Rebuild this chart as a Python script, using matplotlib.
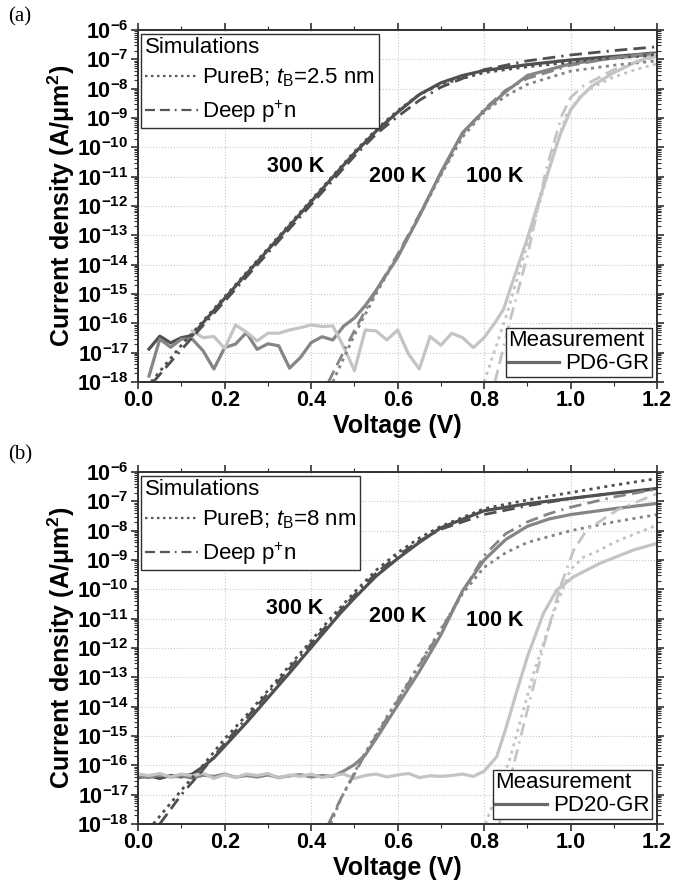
"""Dark current density vs voltage, PureB vs deep p+n diodes, two panels."""
import matplotlib

matplotlib.use("Agg")
import matplotlib.pyplot as plt
import numpy as np
from matplotlib.lines import Line2D
from matplotlib.ticker import FixedLocator, FuncFormatter, LogLocator, MultipleLocator, NullFormatter

# ---- panel (a): PD6-GR, PureB tB=2.5 nm ----  (log10 of A/um^2)
a_meas_300_v = [0.025, 0.05, 0.075, 0.1, 0.125, 0.15, 0.2, 0.3, 0.4, 0.46, 0.5, 0.55,
                0.6, 0.65, 0.7, 0.75, 0.8, 0.9, 1.0, 1.1, 1.2]
a_meas_300 = [-16.88, -16.44, -16.67, -16.49, -16.42, -15.98, -15.15, -13.5, -11.85, -10.85,
              -10.2, -9.45, -8.8, -8.2, -7.8, -7.55, -7.38, -7.18, -7.02, -6.9, -6.78]
a_meas_200_v = [0.025, 0.05, 0.075, 0.1, 0.125, 0.15, 0.175, 0.2, 0.225, 0.25, 0.275, 0.3,
                0.325, 0.35, 0.375, 0.4, 0.425, 0.45, 0.475, 0.5, 0.525, 0.55, 0.6, 0.65,
                0.7, 0.75, 0.8, 0.85, 0.9, 1.0, 1.1, 1.2]
a_meas_200 = [-17.8, -16.54, -16.82, -16.54, -16.54, -16.94, -17.56, -16.83, -16.71, -16.32,
              -16.89, -16.7, -16.77, -17.53, -17.17, -16.66, -16.46, -16.57, -16.1, -15.82,
              -15.4, -14.88, -13.75, -12.35, -10.85, -9.5, -8.75, -8.1, -7.55, -7.15, -6.95, -6.82]
a_meas_100_v = [0.125, 0.15, 0.175, 0.2, 0.225, 0.25, 0.275, 0.3, 0.325, 0.35, 0.375, 0.4,
                0.425, 0.45, 0.475, 0.5, 0.525, 0.55, 0.575, 0.6, 0.625, 0.65, 0.675, 0.7,
                0.725, 0.75, 0.775, 0.8, 0.825, 0.845, 0.86, 0.9, 0.925, 0.95, 0.975, 1.0,
                1.025, 1.05, 1.1, 1.15, 1.2]
a_meas_100 = [-16.26, -16.49, -16.45, -16.86, -16.06, -16.3, -16.6, -16.34, -16.34, -16.23,
              -16.15, -16.06, -16.11, -16.09, -16.8, -17.62, -16.23, -16.26, -16.57, -16.23,
              -17.05, -17.56, -16.45, -16.75, -16.34, -16.49, -16.83, -16.49, -15.98, -15.52,
              -14.84, -13.1, -11.9, -10.75, -9.6, -8.72, -8.25, -7.9, -7.45, -7.1, -6.82]

a_pureb_300_v = [0.03, 0.1, 0.2, 0.3, 0.4, 0.5, 0.55, 0.6, 0.65, 0.7, 0.8, 0.9, 1.0, 1.1, 1.2]
a_pureb_300 = [-18, -16.75, -15.1, -13.45, -11.8, -10.15, -9.4, -8.75, -8.2, -7.85, -7.45,
               -7.25, -7.1, -6.95, -6.85]
a_deep_300_v = [0.035, 0.1, 0.2, 0.3, 0.4, 0.5, 0.55, 0.6, 0.65, 0.7, 0.8, 0.9, 1.0, 1.1, 1.2]
a_deep_300 = [-18, -16.9, -15.25, -13.6, -11.95, -10.3, -9.55, -8.95, -8.4, -7.95, -7.35,
              -7.05, -6.85, -6.7, -6.57]
a_pureb_200_v = [0.45, 0.5, 0.55, 0.6, 0.65, 0.7, 0.75, 0.8, 0.85, 0.9, 1.0, 1.1, 1.2]
a_pureb_200 = [-18, -16.4, -15.0, -13.7, -12.35, -10.95, -9.65, -8.8, -8.25, -7.85, -7.4,
               -7.2, -7.05]
a_deep_200_v = [0.44, 0.5, 0.55, 0.6, 0.65, 0.7, 0.75, 0.8, 0.85, 0.9, 1.0, 1.1, 1.2]
a_deep_200 = [-18, -16.25, -14.9, -13.65, -12.3, -10.9, -9.55, -8.7, -8.05, -7.65, -7.2,
              -6.95, -6.75]
a_pureb_100_v = [0.80, 0.85, 0.9, 0.93, 0.96, 0.99, 1.02, 1.05, 1.1, 1.15, 1.2]
a_pureb_100 = [-18, -15.8, -13.3, -11.8, -10.2, -8.9, -8.3, -7.95, -7.6, -7.35, -7.15]
a_deep_100_v = [0.825, 0.86, 0.9, 0.945, 0.98, 1.0, 1.03, 1.068, 1.1, 1.15, 1.2]
a_deep_100 = [-18, -15.9, -13.7, -10.66, -8.9, -8.3, -7.9, -7.6, -7.35, -7.1, -6.9]

# ---- panel (b): PD20-GR, PureB tB=8 nm ----
b_meas_300_v = [0.0, 0.025, 0.05, 0.075, 0.1, 0.125, 0.15, 0.175, 0.2, 0.25, 0.3, 0.35,
                0.4, 0.467, 0.5, 0.55, 0.6, 0.65, 0.7, 0.8, 0.9, 1.0, 1.1, 1.2]
b_meas_300 = [-16.42, -16.36, -16.45, -16.35, -16.4, -16.3, -16.05, -15.75, -15.35, -14.55,
              -13.7, -12.85, -11.98, -10.82, -10.3, -9.55, -8.95, -8.4, -7.9, -7.32, -7.08,
              -6.9, -6.72, -6.56]
b_meas_200_v = [0.0, 0.025, 0.05, 0.075, 0.1, 0.125, 0.15, 0.175, 0.2, 0.225, 0.25, 0.275,
                0.3, 0.325, 0.35, 0.375, 0.4, 0.425, 0.45, 0.475, 0.5, 0.525, 0.55, 0.6,
                0.65, 0.7, 0.75, 0.8, 0.85, 0.9, 0.95, 1.0, 1.1, 1.2]
b_meas_200 = [-16.38, -16.42, -16.33, -16.4, -16.36, -16.44, -16.34, -16.38, -16.3, -16.41,
              -16.35, -16.4, -16.33, -16.42, -16.36, -16.32, -16.4, -16.35, -16.38, -16.2,
              -15.98, -15.65, -15.1, -13.95, -12.8, -11.55, -10.05, -9.0, -8.3, -7.85, -7.6,
              -7.45, -7.25, -7.07]
b_meas_100_v = [0.0, 0.025, 0.05, 0.075, 0.1, 0.125, 0.15, 0.175, 0.2, 0.225, 0.25, 0.275,
                0.3, 0.325, 0.35, 0.375, 0.4, 0.425, 0.45, 0.475, 0.5, 0.525, 0.55, 0.575,
                0.6, 0.625, 0.65, 0.675, 0.7, 0.725, 0.75, 0.775, 0.8, 0.829, 0.849, 0.875,
                0.9, 0.937, 0.968, 1.007, 1.068, 1.145, 1.2]
b_meas_100 = [-16.3, -16.35, -16.28, -16.4, -16.3, -16.36, -16.27, -16.45, -16.32, -16.42,
              -16.3, -16.35, -16.28, -16.44, -16.33, -16.38, -16.3, -16.42, -16.35, -16.3,
              -16.45, -16.35, -16.3, -16.4, -16.33, -16.28, -16.42, -16.36, -16.38, -16.35,
              -16.3, -16.38, -16.2, -15.71, -14.8, -13.5, -12.3, -10.82, -10.02, -9.57,
              -9.11, -8.66, -8.43]

b_pureb_300_v = [0.035, 0.1, 0.15, 0.2, 0.25, 0.3, 0.35, 0.4, 0.45, 0.5, 0.55, 0.6, 0.65,
                 0.7, 0.8, 0.9, 1.0, 1.1, 1.2]
b_pureb_300 = [-18, -16.85, -16.0, -15.1, -14.3, -13.45, -12.6, -11.75, -10.9, -10.1, -9.35,
               -8.75, -8.25, -7.85, -7.25, -6.95, -6.7, -6.45, -6.22]
b_deep_300_v = [0.05, 0.1, 0.15, 0.2, 0.25, 0.3, 0.35, 0.4, 0.45, 0.5, 0.55, 0.6, 0.65,
                0.7, 0.8, 0.9, 1.0, 1.1, 1.2]
b_deep_300 = [-18, -17.0, -16.15, -15.25, -14.4, -13.55, -12.7, -11.85, -11.0, -10.2, -9.45,
              -8.85, -8.35, -7.95, -7.45, -7.15, -6.9, -6.72, -6.58]
b_pureb_200_v = [0.445, 0.47, 0.5, 0.52, 0.55, 0.6, 0.65, 0.7, 0.75, 0.8, 0.85, 0.9, 1.0,
                 1.1, 1.2]
b_pureb_200 = [-18, -17.1, -16.25, -15.7, -14.95, -13.75, -12.55, -11.35, -10.15, -9.25,
               -8.75, -8.4, -8.0, -7.7, -7.45]
b_deep_200_v = [0.44, 0.47, 0.5, 0.52, 0.55, 0.6, 0.65, 0.7, 0.75, 0.8, 0.85, 0.9, 0.95,
                1.0, 1.1, 1.2]
b_deep_200 = [-18, -17.1, -16.3, -15.75, -15.0, -13.8, -12.6, -11.4, -10.1, -8.85, -8.1,
              -7.7, -7.42, -7.2, -6.85, -6.58]
b_pureb_100_v = [0.803, 0.86, 0.914, 0.96, 0.999, 1.03, 1.068, 1.1, 1.15, 1.2]
b_pureb_100 = [-18, -15.76, -12.87, -10.82, -9.34, -8.9, -8.66, -8.4, -8.1, -7.81]
b_deep_100_v = [0.835, 0.872, 0.937, 0.976, 1.007, 1.037, 1.107, 1.2]
b_deep_100 = [-18, -15.76, -11.96, -9.91, -8.66, -7.98, -7.3, -6.73]

temp_labels = ["300 K", "200 K", "100 K"]
a_label_pos = [(0.365, -10.66), (0.60, -11.0), (0.825, -11.0)]
b_label_pos = [(0.363, -10.64), (0.60, -10.94), (0.825, -11.05)]

colors = ["#505050", "#858585", "#c4c4c4"]
DOT = (0, (1.1, 1.6))
DASH = (0, (4.5, 2.2, 4.5, 2.2, 0.8, 2.2))

plt.rcParams.update({
    "font.family": ["Liberation Sans", "DejaVu Sans"],
    "mathtext.fontset": "custom",
    "mathtext.rm": "Liberation Sans",
    "mathtext.it": "Liberation Sans:italic",
    "mathtext.bf": "Liberation Sans:bold",
})


def draw_panel(ax, meas, sims, label_pos, tb_text, meas_name):
    for (v, j), c in zip(meas, colors):
        ax.plot(v, 10.0 ** np.asarray(j), color=c, lw=2.3, solid_joinstyle="round")
    for (vp, jp, vd, jd), c in zip(sims, colors):
        ax.plot(vp, 10.0 ** np.asarray(jp), color=c, lw=2.0, linestyle=DOT)
        ax.plot(vd, 10.0 ** np.asarray(jd), color=c, lw=2.0, linestyle=DASH)
    for txt, (x, y) in zip(temp_labels, label_pos):
        ax.text(x, 10.0 ** y, txt, ha="center", va="center", fontsize=15.5,
                fontweight="bold")

    ax.set_yscale("log")
    ax.set_xlim(0.0, 1.2)
    ax.set_ylim(1e-18, 1e-6)
    ax.xaxis.set_major_locator(MultipleLocator(0.2))
    ax.xaxis.set_minor_locator(MultipleLocator(0.1))
    ax.xaxis.set_major_formatter(FuncFormatter(lambda v, p: f"{v:.1f}"))
    ax.yaxis.set_major_locator(FixedLocator([10.0 ** k for k in range(-18, -5)]))
    ax.yaxis.set_minor_locator(LogLocator(base=10, subs=np.arange(2, 10), numticks=30))
    ax.yaxis.set_minor_formatter(NullFormatter())
    ax.yaxis.set_major_formatter(FuncFormatter(
        lambda v, p: r"$\mathbf{10^{%d}}$" % int(round(np.log10(v)))))
    ax.tick_params(which="both", direction="out", top=True, right=True, colors="#303030",
                   labelcolor="black")
    ax.tick_params(which="major", length=5, width=1.2, labelsize=15.5, pad=2)
    ax.tick_params(axis="x", which="major", pad=1)
    ax.tick_params(which="minor", length=3, width=0.8)
    for lab in ax.get_xticklabels():
        lab.set_fontweight("bold")
    ax.grid(which="major", color="#c8c8c8", linestyle=":", linewidth=0.8)
    for s in ax.spines.values():
        s.set_linewidth(1.4)
        s.set_color("#303030")
    ax.set_xlabel("Voltage (V)", fontsize=18, fontweight="bold", labelpad=2)
    ax.set_ylabel("Current density (A/μm$\\mathbf{^2}$)", fontsize=18,
                  fontweight="bold", labelpad=0)

    sim_handles = [
        Line2D([], [], color="#555555", lw=1.6, linestyle=DOT),
        Line2D([], [], color="#555555", lw=1.6, linestyle=DASH),
    ]
    leg1 = ax.legend(sim_handles, [f"PureB; $t_{{\\mathrm{{B}}}}$={tb_text}", "Deep p$^{+}$n"],
                     title="Simulations", loc="upper left", bbox_to_anchor=(0.006, 0.99),
                     fontsize=16, title_fontsize=16, frameon=True, fancybox=False,
                     edgecolor="#303030", framealpha=1, borderpad=0.15, labelspacing=0.4,
                     handlelength=2.4, handletextpad=0.2, borderaxespad=0,
                     alignment="left")
    leg1.get_frame().set_linewidth(1.0)
    ax.add_artist(leg1)
    meas_handle = [Line2D([], [], color="#6a6a6a", lw=2.3)]
    leg2 = ax.legend(meas_handle, [meas_name], title="Measurement", loc="lower right",
                     bbox_to_anchor=(0.99, 0.015), fontsize=16, title_fontsize=16,
                     frameon=True, fancybox=False, edgecolor="#303030", framealpha=1,
                     borderpad=0.1, labelspacing=0.1, handlelength=2.3,
                     handletextpad=0.3, borderaxespad=0, alignment="left")
    leg2.get_frame().set_linewidth(1.0)


fig = plt.figure(figsize=(6.91, 8.84), dpi=100)
ax_a = fig.add_axes([0.2, 0.568, 0.751, 0.398])
ax_b = fig.add_axes([0.2, 0.068, 0.751, 0.398])

draw_panel(
    ax_a,
    [(a_meas_300_v, a_meas_300), (a_meas_200_v, a_meas_200), (a_meas_100_v, a_meas_100)],
    [(a_pureb_300_v, a_pureb_300, a_deep_300_v, a_deep_300),
     (a_pureb_200_v, a_pureb_200, a_deep_200_v, a_deep_200),
     (a_pureb_100_v, a_pureb_100, a_deep_100_v, a_deep_100)],
    a_label_pos, "2.5 nm", "PD6-GR",
)
draw_panel(
    ax_b,
    [(b_meas_300_v, b_meas_300), (b_meas_200_v, b_meas_200), (b_meas_100_v, b_meas_100)],
    [(b_pureb_300_v, b_pureb_300, b_deep_300_v, b_deep_300),
     (b_pureb_200_v, b_pureb_200, b_deep_200_v, b_deep_200),
     (b_pureb_100_v, b_pureb_100, b_deep_100_v, b_deep_100)],
    b_label_pos, "8 nm", "PD20-GR",
)

fig.text(0.012, 0.981, "(a)", family="Liberation Serif", fontsize=15, va="center")
fig.text(0.012, 0.486, "(b)", family="Liberation Serif", fontsize=15, va="center")

fig.savefig("out.png", dpi=100)
